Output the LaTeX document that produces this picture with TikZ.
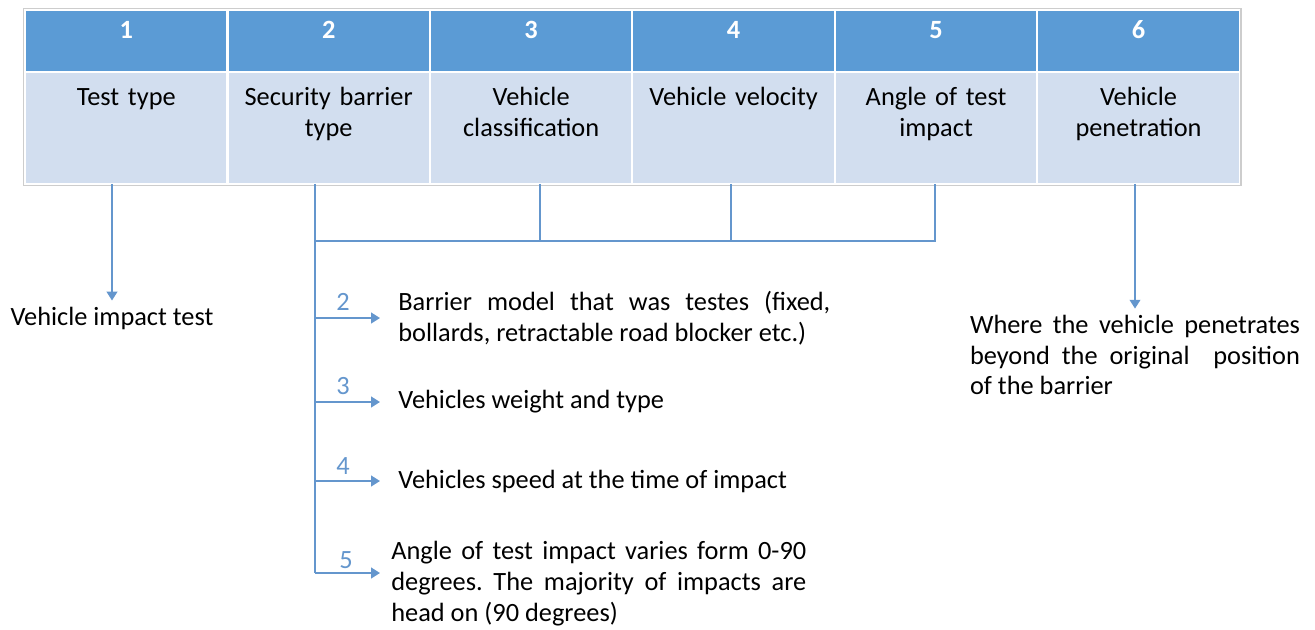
\documentclass[tikz,border=0pt]{standalone}
\definecolor{headblue}{RGB}{91, 155, 213}
\definecolor{cellblue}{RGB}{210, 222, 239}
\definecolor{linkblue}{RGB}{100, 150, 205}
\definecolor{framegray}{RGB}{205, 205, 205}
\usepackage{fontspec}
\setmainfont{Carlito}
\usepackage{tikz}
\usetikzlibrary{
    arrows.meta,
    positioning,
    fit
}
\frenchspacing

\begin{document}
\begin{tikzpicture}[x=0.02cm, y=-0.02cm,
            font=\fontsize{15}{17.6}\selectfont,
            head/.style={draw=white, line width=1.2pt, fill=headblue, text=white, font=\fontsize{15}{17.6}\selectfont\bfseries, minimum width=4.05cm, inner sep=0pt, text height=0.58cm, text depth=0.66cm, outer sep=0pt},
            cell/.style={draw=white, line width=1.2pt, fill=cellblue, text width=3.7cm, align=center, minimum width=4.05cm, inner ysep=0pt, text height=0.68cm, text depth=1.56cm, outer sep=0pt},
            link/.style={draw=linkblue, line width=1.1pt},
            arr/.style={link, -{Triangle[length=5pt, width=6pt]}},
            num/.style={text=linkblue, inner sep=0pt},
            desc/.style={anchor=west, align=justify, inner xsep=0.36cm, inner ysep=0pt}]

            \useasboundingbox (0,0) rectangle (1315,629);

            % Header row
            \node[head, anchor=north west] (h1) at (25,10) {1};
            \node[head, right=0pt of h1] (h2) {2};
            \node[head, right=0pt of h2] (h3) {3};
            \node[head, right=0pt of h3] (h4) {4};
            \node[head, right=0pt of h4] (h5) {5};
            \node[head, right=0pt of h5] (h6) {6};

            % Parameter row
            \node[cell, below=0pt of h1] (c1) {Test type};
            \node[cell, below=0pt of h2] (c2) {Security barrier\\type};
            \node[cell, below=0pt of h3] (c3) {Vehicle\\classification};
            \node[cell, below=0pt of h4] (c4) {Vehicle velocity};
            \node[cell, below=0pt of h5] (c5) {Angle of test\\impact};
            \node[cell, below=0pt of h6] (c6) {Vehicle\\penetration};
            \node[fit=(h1)(c6), draw=framegray, line width=0.6pt, inner sep=0.7pt] (frame) {};

            % Outer texts
            \node (t1) at (112,318) {Vehicle impact test};
            \node[text width=6.6cm, align=justify, inner xsep=0pt] (t6) at (1135,355)
                {Where the vehicle penetrates\linebreak beyond the original~ position\linebreak of the barrier};

            % Descriptions
            \node[desc, text width=8.64cm] (d2) at (380,318)
                {Barrier model that was testes (fixed,\linebreak bollards, retractable road blocker etc.)};
            \node[desc] (d3) at (380,402) {Vehicles weight and type};
            \node[desc] (d4) at (380,481) {Vehicles speed at the time of impact};
            \node[desc, text width=8.3cm, inner xsep=0.22cm] (d5) at (380,584)
                {Angle of test impact varies form 0-90\linebreak degrees. The majority of impacts are\linebreak head on (90 degrees)};

            % Bus coordinates
            \coordinate (bus2) at (315,241);
            \coordinate (bus3) at (540,241);
            \coordinate (bus4) at (731,241);
            \coordinate (bus5) at (935,241);
            \coordinate (foot) at (315,573);

            % Connectors
            \draw[arr] (c1.south -| t1.north) -- (t1.north);
            \draw[arr] (c6.south -| t6.north) -- (t6.north);
            \draw[link] (c2.south -| bus2) -- (foot);
            \draw[link] (bus2) -- (bus5) -- (c5.south -| bus5);
            \draw[link] (c3.south -| bus3) -- (bus3);
            \draw[link] (c4.south -| bus4) -- (bus4);
            \draw[arr] (d2.west -| foot) -- (d2.west);
            \draw[arr] (d3.west -| foot) -- (d3.west);
            \draw[arr] (d4.west -| foot) -- (d4.west);
            \draw[arr] (foot) -- (foot -| d5.west);

            % Labels
            \node[num] (n2) at (343,302) {2};
            \node[num] (n3) at (343,386) {3};
            \node[num] (n4) at (343,466) {4};
            \node[num] (n5) at (346,560) {5};
        \end{tikzpicture}
\end{document}
